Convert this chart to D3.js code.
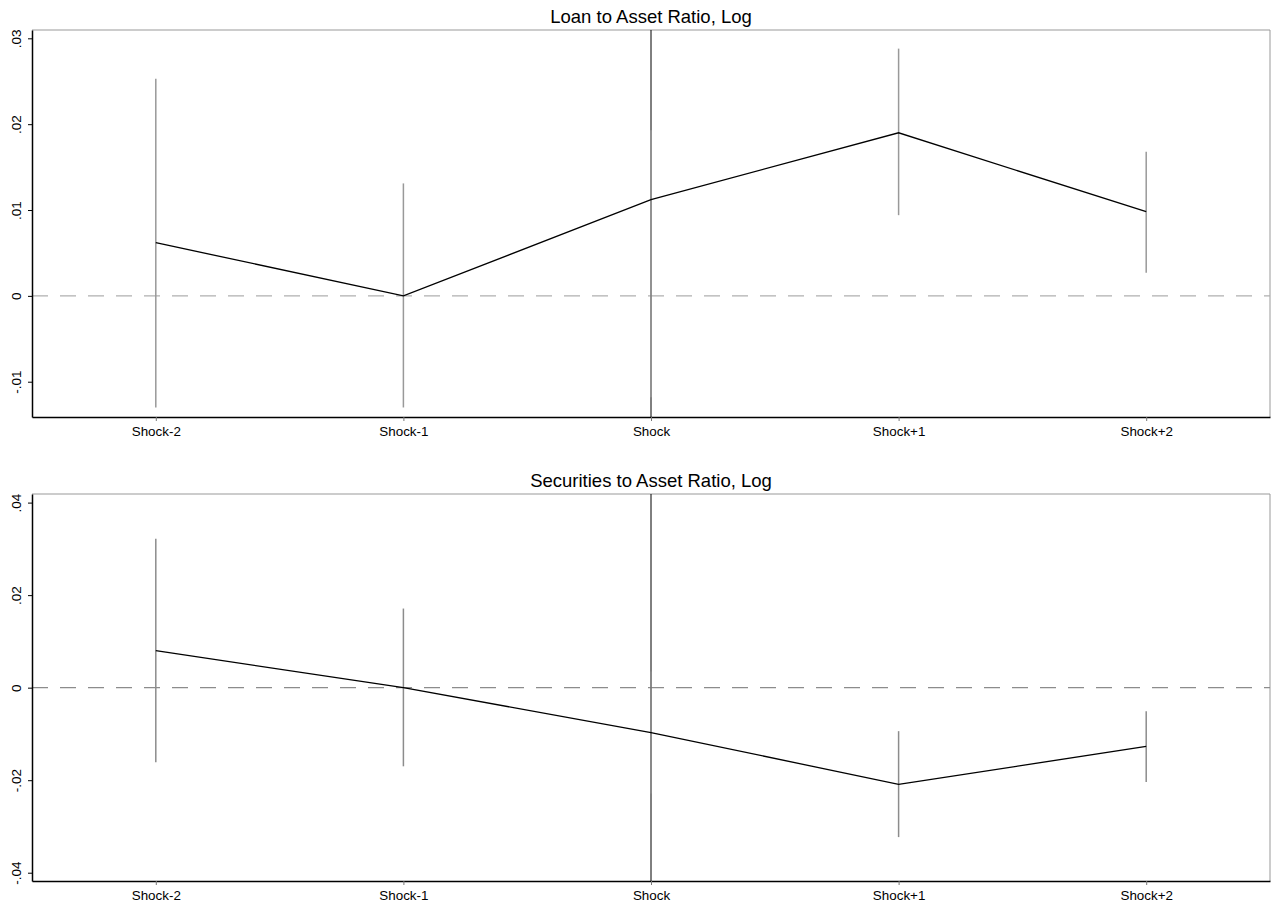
<!DOCTYPE html>
<html>
<head>
<meta charset="utf-8">
<script src="https://cdn.jsdelivr.net/npm/d3@7"></script>
<style>
  html, body { margin: 0; padding: 0; background: #fff; }
  svg { display: block; font-family: "Liberation Sans", Arial, sans-serif; }
</style>
</head>
<body>
<svg id="chart" width="1271" height="906"></svg>
<script>
// Event-time categories
const periods = ["Shock-2", "Shock-1", "Shock", "Shock+1", "Shock+2"];

// Panel 1: loan to asset ratio (log) — point estimates and 95% bounds
const loanCoef  = [0.0062, 0.0000, 0.0112, 0.0190, 0.0098];
const loanLower = [-0.0130, -0.0130, -0.0118, 0.0094, 0.0027];
const loanUpper = [0.0253, 0.0131, 0.0193, 0.0288, 0.0168];
const loanTicks = [-0.01, 0, 0.01, 0.02, 0.03];

// Panel 2: securities to asset ratio (log)
const secCoef  = [0.0080, 0.0000, -0.0097, -0.0209, -0.0127];
const secLower = [-0.0161, -0.0170, -0.0229, -0.0323, -0.0204];
const secUpper = [0.0322, 0.0171, 0.0035, -0.0094, -0.0051];
const secTicks = [-0.04, -0.02, 0, 0.02, 0.04];

const panels = [
  { title: "Loan to Asset Ratio, Log", coef: loanCoef, lower: loanLower, upper: loanUpper,
    ticks: loanTicks, domain: [-0.01411, 0.03097], top: 30, bottom: 417, titleY: 23,
    ciColor: "#999", zeroColor: "#b0b0b0" },
  { title: "Securities to Asset Ratio, Log", coef: secCoef, lower: secLower, upper: secUpper,
    ticks: secTicks, domain: [-0.04179, 0.04186], top: 494, bottom: 881, titleY: 487,
    ciColor: "#8c8c8c", zeroColor: "#8c8c8c" }
];

const svg = d3.select("#chart");
const left = 32, right = 1270;

// Stata-style labels: ".02", "-.01", "0"
const fmt = d => d === 0 ? "0" : d3.format(".2f")(d).replace("\u2212", "-").replace(/^(-?)0\./, "$1.");

panels.forEach(p => {
  const x = d3.scalePoint().domain(periods).range([left, right]).padding(0.5);
  const y = d3.scaleLinear().domain(p.domain).range([p.bottom, p.top]);
  const g = svg.append("g");

  // frame: top and right edges
  g.append("path")
    .attr("d", `M${left},${p.top}H${right}V${p.bottom}`)
    .attr("fill", "none").attr("stroke", "#999").attr("stroke-width", 1);

  // zero reference line
  g.append("line")
    .attr("x1", left).attr("x2", right)
    .attr("y1", y(0)).attr("y2", y(0))
    .attr("stroke", p.zeroColor)
    .attr("stroke-width", 1.3)
    .attr("stroke-dasharray", "16,12");

  // vertical line at the shock period
  g.append("line")
    .attr("x1", x("Shock")).attr("x2", x("Shock"))
    .attr("y1", p.top).attr("y2", p.bottom)
    .attr("stroke", "#000").attr("stroke-width", 1);

  // confidence intervals
  g.selectAll(".ci").data(periods).enter().append("line")
    .attr("x1", d => x(d)).attr("x2", d => x(d))
    .attr("y1", (d, i) => y(p.lower[i])).attr("y2", (d, i) => y(p.upper[i]))
    .attr("stroke", p.ciColor).attr("stroke-width", 1.5);

  // coefficient path
  g.append("path")
    .datum(periods)
    .attr("d", d3.line().x(d => x(d)).y((d, i) => y(p.coef[i])))
    .attr("fill", "none").attr("stroke", "#000").attr("stroke-width", 1.3);

  // y axis
  const ya = g.append("g").attr("transform", `translate(${left},0)`)
    .call(d3.axisLeft(y).tickValues(p.ticks).tickFormat(fmt).tickSize(4).tickSizeOuter(0));
  ya.select(".domain").attr("stroke", "#000").attr("stroke-width", 1.5);
  ya.selectAll(".tick line").attr("stroke", "#000");
  ya.selectAll(".tick text")
    .attr("font-size", 13.5).attr("fill", "#000")
    .attr("text-anchor", "middle")
    .attr("transform", "rotate(-90)")
    .attr("x", 0).attr("dy", 0)
    .attr("y", -11);

  // x axis
  const xa = g.append("g").attr("transform", `translate(0,${p.bottom})`)
    .call(d3.axisBottom(x).tickSize(4).tickSizeOuter(0).tickPadding(5));
  xa.select(".domain").attr("stroke", "#000").attr("stroke-width", 1.5);
  xa.selectAll(".tick line").attr("stroke", "#777");
  xa.selectAll(".tick text").attr("font-size", 13.4).attr("fill", "#000");

  // panel title
  svg.append("text")
    .attr("x", (left + right) / 2).attr("y", p.titleY)
    .attr("text-anchor", "middle").attr("font-size", 18.5).attr("fill", "#000")
    .text(p.title);
});
</script>
</body>
</html>
